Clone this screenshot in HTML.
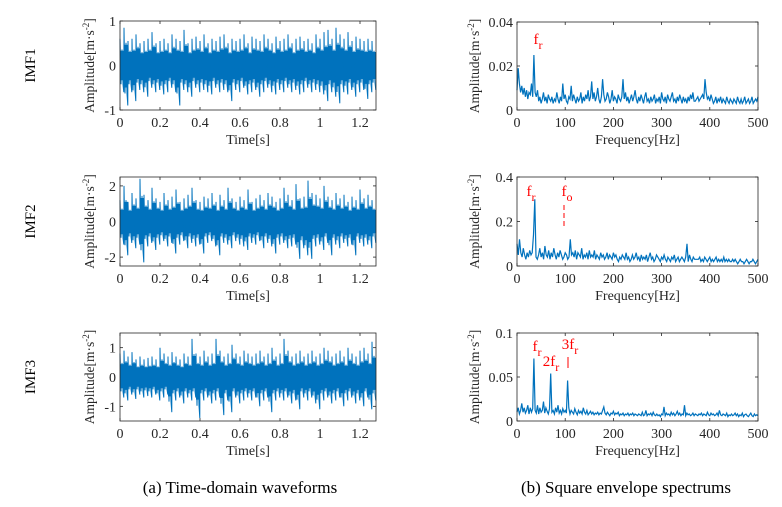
<!DOCTYPE html>
<html><head><meta charset="utf-8">
<style>
html,body{margin:0;padding:0;background:#fff;}
svg{display:block;font-family:"Liberation Serif",serif;}
</style></head>
<body>
<svg id="fig" width="782" height="507" viewBox="0 0 782 507" xmlns="http://www.w3.org/2000/svg">
<text x="240" y="493" font-size="17" text-anchor="middle" fill="#000">(a) Time-domain waveforms</text>
<text x="626" y="493" font-size="17" text-anchor="middle" fill="#000">(b) Square envelope spectrums</text>
</svg>
<script>
// ---- time-domain envelope data (peak highs / lows per segment) ----
const imf1Hi=[0.6,0.85,0.55,0.6,0.7,0.5,0.55,0.6,0.75,0.5,0.55,0.6,0.5,0.7,0.6,0.55,0.8,0.5,0.6,0.65,0.55,0.7,0.5,0.6,0.55,0.65,0.7,0.5,0.6,0.55,0.6,0.7,0.5,0.65,0.6,0.55,0.7,0.6,0.5,0.65,0.55,0.6,0.7,0.5,0.6,0.65,0.55,0.6,0.5,0.7,0.6,0.75,0.8,0.6,0.85,0.7,0.6,0.75,0.55,0.65,0.6,0.55,0.6,0.55];
const imf1Lo=[-0.6,-0.9,-0.6,-0.8,-0.55,-0.6,-0.7,-0.5,-0.6,-0.55,-0.65,-0.6,-0.5,-0.6,-0.9,-0.55,-0.6,-0.7,-0.5,-0.6,-0.55,-0.6,-0.65,-0.5,-0.6,-0.55,-0.6,-0.8,-0.55,-0.6,-0.5,-0.65,-0.6,-0.55,-0.7,-0.6,-0.5,-0.6,-0.65,-0.55,-0.6,-0.5,-0.6,-0.55,-0.65,-0.6,-0.5,-0.6,-0.55,-0.6,-0.65,-0.8,-0.6,-0.7,-0.85,-0.6,-0.65,-0.55,-0.7,-0.6,-0.55,-0.75,-0.6,-0.55];
const imf2Hi=[1.2,2.0,1.1,1.6,1.3,2.4,1.5,1.2,1.9,1.3,1.1,1.6,1.2,1.4,1.8,1.1,1.3,1.5,1.9,1.2,1.1,1.4,1.3,1.6,1.1,1.5,1.2,1.9,1.3,1.1,1.4,1.2,1.8,1.1,1.3,1.5,1.2,1.6,1.4,1.1,1.3,1.9,1.5,1.2,2.1,1.3,1.4,2.3,1.6,1.5,1.3,2.0,1.4,1.2,1.6,1.3,1.5,1.1,1.4,1.2,1.8,1.3,1.5,1.2];
const imf2Lo=[-1.3,-1.9,-1.2,-1.5,-1.3,-2.3,-1.4,-1.2,-1.6,-1.3,-1.1,-1.4,-1.2,-1.8,-1.3,-1.1,-1.5,-1.2,-1.4,-1.3,-1.8,-1.2,-1.1,-1.4,-1.9,-1.2,-1.3,-1.5,-1.1,-1.3,-1.4,-1.6,-1.2,-1.3,-1.1,-1.5,-1.2,-1.4,-1.8,-1.3,-1.2,-1.5,-1.4,-1.3,-2.1,-1.5,-1.9,-2.1,-1.4,-1.3,-1.6,-1.2,-1.9,-1.3,-1.5,-1.2,-1.4,-1.3,-1.9,-1.2,-1.4,-1.3,-1.5,-1.2];
const imf3Hi=[0.8,0.9,0.7,0.85,0.6,0.7,0.6,0.65,0.7,0.6,1.0,0.8,0.7,0.85,0.7,0.6,0.8,0.7,1.3,0.8,0.7,0.9,0.7,0.8,1.3,0.9,0.7,0.8,1.1,0.8,0.7,0.9,0.8,0.7,0.8,0.9,0.7,0.8,1.0,0.7,0.8,1.3,0.9,0.7,0.8,0.9,0.7,0.8,0.9,0.7,0.8,1.0,0.9,0.7,0.8,0.9,0.7,1.0,0.8,0.7,0.9,1.0,0.8,1.2];
const imf3Lo=[-0.7,-0.8,-0.6,-0.75,-0.6,-0.7,-0.65,-0.7,-0.6,-0.8,-0.7,-0.6,-1.2,-0.8,-0.7,-0.9,-0.7,-0.8,-0.7,-1.4,-0.8,-0.7,-0.9,-0.8,-0.7,-1.3,-0.8,-1.2,-0.7,-0.9,-0.8,-0.7,-0.8,-0.7,-1.0,-0.8,-0.7,-1.2,-0.8,-0.7,-0.8,-0.7,-0.9,-0.8,-1.1,-0.7,-0.8,-0.7,-0.9,-1.1,-0.8,-0.7,-0.9,-0.8,-0.7,-1.0,-0.8,-0.7,-0.9,-0.8,-1.0,-0.7,-1.1,-0.8];
// ---- spectra (0..500 Hz, 2.5 Hz step); spec1/spec3 in 1e-3, spec2 in 1e-2 ----
const spec1=[9,19,12,8,11,7,10,6,9,5,8,7,12,6,25,8,6,9,4,6,3,5,8,4,6,3,7,5,4,6,
3,5,4,8,5,3,6,4,12,5,7,4,3,6,5,11,4,7,5,3,6,4,5,8,3,6,4,7,5,9,
4,6,13,5,8,4,6,10,5,3,6,14,7,4,5,8,6,3,5,9,4,6,5,3,7,5,4,6,14,5,
8,4,6,3,5,7,4,6,9,5,3,6,4,7,5,3,6,8,4,5,3,6,4,5,7,3,5,4,6,3,
8,5,4,6,3,7,5,4,6,8,4,5,3,6,4,7,5,3,6,4,5,3,6,4,7,5,8,4,4,5,
6,4,5,6,7,5,14,8,5,6,4,7,5,3,4,6,3,5,4,6,3,5,4,3,6,4,3,5,4,3,
5,4,3,6,4,3,5,3,4,6,3,4,5,3,4,6,3,4,5,4,6];
const spec2=[10,5,12,6,4,8,5,3,6,4,7,5,6,14,30,4,3,5,8,4,6,3,9,5,4,7,3,6,4,8,
5,3,6,4,7,5,3,4,6,5,3,4,12,5,6,4,7,3,6,5,4,8,3,5,4,6,3,7,4,5,
4,7,3,5,4,3,6,4,5,3,4,6,3,5,4,3,6,4,5,3,2,4,3,5,4,3,6,3,4,2,
3,5,3,4,6,3,4,2,5,3,4,3,5,2,4,6,3,4,2,3,5,4,3,2,4,3,5,3,2,4,
3,2,4,3,5,2,3,4,2,3,4,3,2,4,10,2,5,3,2,4,3,3,3,3,4,2,3,2,4,3,
2,3,4,2,3,2,3,4,2,3,2,3,2,4,2,3,2,3,2,2,3,2,3,2,1,2,3,2,2,1,
2,3,2,1,2,2,3,2,1,2,3];
const spec3=[10,15,8,12,20,10,15,9,12,18,8,15,10,14,71,12,9,18,8,15,10,12,22,9,15,11,8,14,54,10,
12,8,15,10,18,9,12,8,14,10,12,9,46,15,8,12,10,8,14,10,7,12,9,11,8,15,10,8,12,7,
9,11,8,10,7,9,8,10,7,9,8,12,16,9,7,10,8,6,9,8,11,7,9,8,10,6,8,7,9,6,
8,7,9,6,8,7,9,6,8,7,6,8,7,6,10,6,7,12,6,8,7,9,6,10,7,6,8,6,7,5,
8,7,16,6,9,7,8,6,10,7,9,6,8,11,7,9,6,8,7,18,6,9,7,8,6,7,9,6,8,7,
6,8,7,9,6,8,7,6,10,7,6,9,7,8,6,7,9,6,12,7,6,8,7,6,9,5,7,6,8,6,
7,9,6,8,5,7,6,9,5,7,8,6,5,7,9,6,5,8,6,7,6];
const timeTicks=["0","0.2","0.4","0.6","0.8","1","1.2"];
const freqTicks=["0","100","200","300","400","500"];
const y1Ticks=["-1","0","1"], y2Ticks=["-2","0","2"], y3Ticks=["-1","0","1"];
const s1Ticks=["0","0.02","0.04"], s2Ticks=["0","0.2","0.4"], s3Ticks=["0","0.05","0.1"];

const NS="http://www.w3.org/2000/svg";
const svg=document.getElementById('fig');
const BLUE="#0072BD";
function mk(tag,attrs,parent){const e=document.createElementNS(NS,tag);for(const k in attrs)e.setAttribute(k,attrs[k]);(parent||svg).appendChild(e);return e;}

function axes(g,box,xmin,xmax,ymin,ymax,xt,yt,xlabel){
  const sx=v=>box.x+(v-xmin)/(xmax-xmin)*box.w;
  const sy=v=>box.y+box.h-(v-ymin)/(ymax-ymin)*box.h;
  xt.forEach(t=>{const v=parseFloat(t),x=sx(v);
    const l=mk('line',{x1:x,x2:x,y1:box.y+box.h,y2:box.y+box.h-3,stroke:'#262626','stroke-width':0.8},g);
    
    mk('line',{x1:x,x2:x,y1:box.y,y2:box.y+3,stroke:'#262626','stroke-width':0.8},g);
    const tx=mk('text',{x:x,y:box.y+box.h+17,'font-size':14,'text-anchor':'middle',fill:'#262626'},g);tx.textContent=t;
    });
  yt.forEach(t=>{const v=parseFloat(t),y=sy(v);
    const l=mk('line',{x1:box.x,x2:box.x+3,y1:y,y2:y,stroke:'#262626','stroke-width':0.8},g);
    
    mk('line',{x1:box.x+box.w,x2:box.x+box.w-3,y1:y,y2:y,stroke:'#262626','stroke-width':0.8},g);
    const tx=mk('text',{x:box.x-4,y:y+5,'font-size':14,'text-anchor':'end',fill:'#262626'},g);tx.textContent=t;
    });
  const xl=mk('text',{x:box.x+box.w/2,y:box.y+box.h+34,'font-size':14,'text-anchor':'middle',fill:'#262626'},g);xl.textContent=xlabel;
  
  const yx=box.x-(box.x>400?38:26), yy=box.y+box.h/2;
  const yl=mk('text',{x:yx,y:yy,'font-size':13.5,'text-anchor':'middle',fill:'#262626',transform:`rotate(-90 ${yx} ${yy})`},g);
  yl.innerHTML='Amplitude[m·s<tspan dy="-5" font-size="9">-2</tspan><tspan dy="5">]</tspan>';
  
  return {sx,sy};
}
function frame(g,box){const r=mk('rect',{x:box.x,y:box.y,width:box.w,height:box.h,fill:'none',stroke:'#262626','stroke-width':0.8},g);
  }

function wave(name,box,hi,lo,yt,ymax,label){
  const g=mk('g',{});
  const {sx,sy}=axes(g,box,0,1.28,-ymax,ymax,timeTicks,yt,'Time[s]');
  const n=hi.length,dt=1.28/n;let d='';
  for(let i=0;i<n;i++){
    const t=i*dt;
    d+=(i?'L':'M')+sx(t).toFixed(1)+','+sy(hi[i]).toFixed(1);
    for(let k=1;k<4;k++){const tt=t+dt*k/4;const a=k%2?lo[i]:hi[i];const f=k===2?0.6:0.7;d+='L'+sx(tt).toFixed(1)+','+sy(a*f).toFixed(1);}
    d+='L'+sx(t+dt*0.95).toFixed(1)+','+sy(lo[i]).toFixed(1);
  }
  let core='';
  for(let i=0;i<n;i++)core+=(i?'L':'M')+sx(i*dt).toFixed(1)+','+sy(hi[i]*0.55).toFixed(1)+'L'+sx((i+1)*dt).toFixed(1)+','+sy(hi[i]*0.55).toFixed(1);
  for(let i=n-1;i>=0;i--)core+='L'+sx((i+1)*dt).toFixed(1)+','+sy(lo[i]*0.55).toFixed(1)+'L'+sx(i*dt).toFixed(1)+','+sy(lo[i]*0.55).toFixed(1);
  const c=mk('path',{d:core+'Z',fill:BLUE},g);
  const p=mk('path',{d:d,fill:'none',stroke:BLUE,'stroke-width':1},g);
  frame(g,box);
  const lx=30,ly=box.y+box.h/2;
  const t=mk('text',{x:lx,y:ly+5,'font-size':15,'text-anchor':'middle',fill:'#000',transform:`rotate(-90 ${lx} ${ly})`},g);t.textContent=label;
  
}
function spec(name,box,vals,scale,yt,ymax){
  const g=mk('g',{});
  const {sx,sy}=axes(g,box,0,500,0,ymax,freqTicks,yt,'Frequency[Hz]');
  const n=vals.length;let d='';
  vals.forEach((v,i)=>{const f=i*500/(n-1);d+=(i?'L':'M')+sx(f).toFixed(1)+','+sy(v*scale).toFixed(1);});
  const p=mk('path',{d:d,fill:'none',stroke:BLUE,'stroke-width':1.2},g);
  frame(g,box);
  return {g,sx,sy};
}
function ann(g,x,y,main,sub,name){
  const t=mk('text',{x:x,y:y,'font-size':15,fill:'#FF0000','text-anchor':'middle'},g);
  t.innerHTML=main+'<tspan dy="5" font-size="12">'+sub+'</tspan>';
  
}

wave('imf1-waveform',{x:120,y:21,w:256,h:89},imf1Hi,imf1Lo,y1Ticks,1,'IMF1');
wave('imf2-waveform',{x:120,y:177,w:256,h:89},imf2Hi,imf2Lo,y2Ticks,2.5,'IMF2');
wave('imf3-waveform',{x:120,y:333,w:256,h:88},imf3Hi,imf3Lo,y3Ticks,1.5,'IMF3');

const a=spec('imf1-spectrum',{x:517,y:22,w:241,h:88},spec1,0.001,s1Ticks,0.04);
ann(a.g,538,44,'f','r','fr-label');
const b=spec('imf2-spectrum',{x:517,y:177,w:241,h:89},spec2,0.01,s2Ticks,0.4);
ann(b.g,531,196,'f','r','fr-label');
ann(b.g,567,196,'f','o','fo-label');
const dl=mk('line',{x1:564,x2:564,y1:205,y2:228,stroke:'#FF0000','stroke-width':1,'stroke-dasharray':'5,3'},b.g);

const c=spec('imf3-spectrum',{x:517,y:333,w:241,h:88},spec3,0.001,s3Ticks,0.1);
ann(c.g,537,351,'f','r','fr-label');
ann(c.g,551,366,'2f','r','2fr-label');
ann(c.g,570,349,'3f','r','3fr-label');
const tl=mk('line',{x1:568,x2:568,y1:357,y2:368,stroke:'#FF0000','stroke-width':1},c.g);

</script>
</body></html>
